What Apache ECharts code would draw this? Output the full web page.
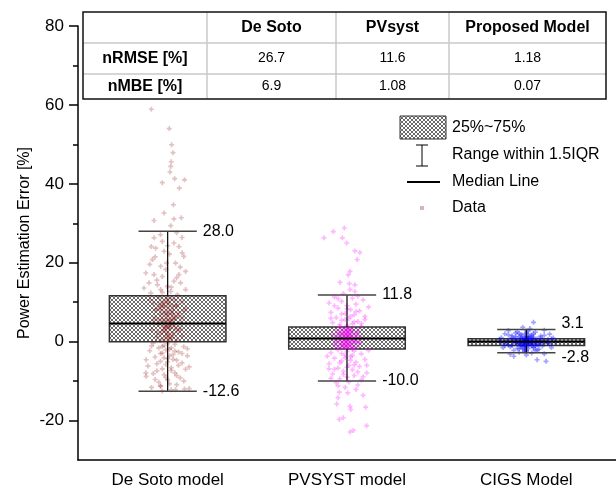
<!DOCTYPE html>
<html>
<head>
<meta charset="utf-8">
<script src="https://cdn.jsdelivr.net/npm/echarts@6/dist/echarts.min.js"></script>
<style>
  html, body { margin: 0; padding: 0; background: #fff; }
  #chart { width: 616px; height: 496px; }
</style>
</head>
<body>
<div id="chart"></div>
<script>
const categories = ["De Soto model", "PVSYST model", "CIGS Model"];
const yMajorTicks = [-20, 0, 20, 40, 60, 80];
const yMinorTicks = [-10, 10, 30, 50, 70];

// 箱线数据 [x, 下须, Q1, 中位数, Q3, 上须]
const boxDeSoto = [1, -12.6, 0.0, 4.6, 11.6, 28.0];
const boxPvsyst = [2, -10.0, -1.85, 0.8, 3.7, 11.8];
const boxCigs = [3, -2.8, -0.95, 0.0, 0.75, 3.1];

// 散点 [x, 误差]
const pointsDeSoto = [
  [0.909, 58.9], [1.009, 54.0], [1.022, 49.9], [1.03, 47.9], [1.02, 45.6], [1.017, 44.4], [1.013, 43.0],
  [0.97, 40.3], [1.039, 41.3], [1.094, 41.0], [1.065, 38.9], [1.032, 34.7], [0.98, 32.6], [1.076, 31.4],
  [0.924, 30.7], [1.035, 31.1], [1.017, 29.4],
  [0.924, 26.3], [0.97, 25.4], [1.035, 25.0], [0.909, 24.1], [0.933, 23.7], [0.98, 22.9], [1.063, 24.1],
  [1.081, 22.5], [0.994, 19.9], [1.044, 19.9], [0.915, 20.8], [0.961, 19.1], [1.09, 21.6], [0.878, 17.4],
  [0.924, 17.0], [0.97, 16.5], [1.063, 17.0], [1.1, 17.8], [0.896, 14.9], [0.943, 14.4], [1.035, 15.3],
  [1.072, 14.9], [0.998, 14.0], [0.868, 13.6], [0.961, 13.2], [1.017, 12.7], [1.1, 13.2], [0.906, 12.3],
  [1.054, 11.9],
  [0.97, 12.5], [1.02, 13.8], [0.94, 15.6], [1.05, 16.2], [0.99, 18.3], [1.07, 18.9], [0.93, 21.5],
  [1.01, 22.2], [0.96, 27.1], [1.05, 27.6], [1.0, 24.3], [0.9, 19.6], [1.08, 26.4],
  [0.95, 11.2], [0.99, 10.8], [1.04, 10.5], [1.08, 10.1], [0.92, 9.8], [1.01, 9.5], [0.97, 9.1], [1.05, 8.9],
  [1.0, 8.6], [0.94, 8.3], [1.03, 8.0], [1.09, 7.7], [0.98, 7.5], [1.02, 7.2], [0.96, 6.9], [1.06, 6.6],
  [1.0, 6.4], [0.93, 6.1], [1.04, 5.9], [0.99, 5.6], [1.01, 5.3], [0.97, 5.0], [1.07, 4.8], [1.02, 4.5],
  [0.95, 4.3], [1.0, 4.1], [1.04, 3.8], [0.98, 3.5], [1.01, 3.2], [0.91, 3.0], [1.06, 2.7], [0.99, 2.5],
  [1.03, 2.2], [0.96, 1.9], [1.0, 1.7], [1.08, 1.4], [0.94, 1.2], [1.02, 0.9], [0.98, 0.6], [1.05, 0.4],
  [1.0, 0.2], [0.97, 10.0], [1.03, 7.0], [1.0, 9.9], [0.99, 3.9], [1.02, 5.7], [0.98, 2.9], [1.01, 1.1],
  [1.05, 9.3], [0.93, 7.9], [1.07, 3.3], [0.95, 5.5], [1.0, 11.0], [1.03, 4.4], [0.96, 8.8],
  [1.0, 10.3], [0.98, 9.6], [1.03, 9.0], [0.96, 8.1], [1.01, 7.8], [0.99, 7.1], [1.04, 6.2], [0.97, 5.9],
  [1.0, 5.2], [1.02, 4.9], [0.98, 4.7], [1.01, 4.0], [0.99, 3.6], [1.05, 3.1], [0.97, 2.6], [1.0, 2.1],
  [1.03, 1.6], [0.99, 1.3], [1.01, 0.7], [0.96, 0.3], [1.02, 10.9], [0.95, 9.4], [1.06, 7.3], [0.92, 5.3],
  [1.08, 6.0], [0.94, 2.4], [1.1, 8.4], [0.9, 10.6], [1.0, 6.9], [1.03, 5.5], [0.98, 8.9], [1.01, 3.4],
  [0.92, -0.4], [1.04, -0.7], [0.98, -1.0], [1.09, -1.3], [0.95, -1.6], [1.01, -1.9], [0.9, -2.3],
  [1.06, -2.6], [0.97, -2.9], [1.03, -3.3], [1.11, -3.6], [0.93, -3.9], [1.0, -4.3], [1.05, -4.7],
  [0.96, -5.0], [1.08, -5.4], [0.99, -5.8], [0.89, -6.2], [1.02, -6.6], [1.1, -7.0], [0.94, -7.4],
  [1.04, -7.9], [0.98, -8.4], [0.88, -8.8], [1.07, -9.2], [1.0, -9.7], [0.95, -10.3], [1.05, -10.9],
  [0.91, -11.6], [1.02, -12.2], [1.12, -11.9], [0.97, -12.5], [0.878, -7.9], [0.961, -11.3],
  [1.094, -12.0], [1.044, -12.2],
  [1.0, -0.5], [0.97, -1.2], [1.02, -1.6], [0.99, -2.1], [1.04, -2.4], [0.96, -3.0], [1.01, -3.6],
  [0.98, -4.1], [1.03, -4.5], [1.0, -5.1], [0.94, -5.6], [1.06, -6.0], [0.97, -6.9], [1.02, -7.3],
  [0.92, -8.1], [1.05, -8.6], [0.99, -9.1], [1.09, -10.0], [0.93, -9.6], [1.01, -10.7], [0.96, -11.2],
  [1.08, -3.0], [0.91, -1.1], [1.11, -1.8], [0.88, -4.6], [1.12, -6.4]
];
const pointsPvsyst = [
  [1.872, 26.3], [1.924, 27.9], [1.985, 28.8], [1.974, 26.3], [1.998, 25.0], [2.044, 23.0], [2.072, 22.6],
  [2.057, 20.8], [2.017, 17.8], [2.007, 16.9], [1.961, 15.0], [2.013, 14.7], [2.044, 14.4], [2.017, 13.2],
  [2.044, 12.7],
  [1.93, 11.3], [2.03, 11.0], [2.09, 10.6], [1.97, 10.2], [1.9, 9.8], [2.05, 9.5], [2.0, 9.1], [2.12, 8.8],
  [1.95, 8.5], [2.02, 8.1], [2.07, 7.8], [1.91, 7.4], [1.99, 7.1], [2.04, 6.8], [2.1, 6.4], [1.94, 6.1],
  [2.01, 5.8], [1.97, 5.4], [2.06, 5.1], [1.92, 4.8], [2.03, 4.5], [2.0, 4.2], [2.08, 3.9], [1.96, 3.8],
  [1.96, 4.3], [2.04, 5.0], [1.99, 5.6], [2.02, 6.4], [1.97, 7.0], [2.05, 7.6], [2.0, 8.3], [1.93, 9.1],
  [2.08, 4.6], [1.91, 5.9], [2.1, 5.6], [1.95, 10.9], [2.06, 11.5], [1.98, 12.2],
  [2.0, 3.5], [1.97, 3.3], [2.03, 3.1], [1.94, 2.9], [2.06, 2.8], [2.0, 2.6], [1.98, 2.4], [2.02, 2.2],
  [1.95, 2.1], [2.05, 1.9], [2.01, 1.8], [1.99, 1.6], [2.04, 1.4], [1.96, 1.3], [2.0, 1.1], [2.08, 1.0],
  [1.93, 0.9], [2.02, 0.7], [1.98, 0.6], [2.0, 0.4], [2.05, 0.3], [1.96, 0.1], [2.01, 0.0], [1.99, -0.2],
  [2.03, -0.3], [1.94, -0.5], [2.07, -0.6], [2.0, -0.8], [1.97, -0.9], [2.02, -1.1], [1.99, -1.2],
  [2.05, -1.4], [1.95, -1.5], [2.0, -1.7], [2.03, -1.8], [1.98, 1.5], [2.01, 2.7], [2.0, -0.1], [1.97, 0.5],
  [2.04, 0.2], [1.99, 1.2], [2.02, -0.7], [1.96, 2.3], [2.01, 3.4], [1.98, -1.3], [2.03, 0.8], [2.0, 1.9],
  [1.99, 0.3], [2.02, 1.6], [1.97, -0.4], [2.06, 1.2], [1.92, 1.7],
  [2.0, 2.9], [1.98, 2.0], [2.02, 1.3], [2.0, 0.9], [1.99, 0.0], [2.01, -0.5], [2.0, -1.0], [1.97, 1.8],
  [2.03, 2.4], [1.96, 0.8], [2.04, -0.2], [1.98, -0.7], [2.02, 0.4], [2.0, 3.2], [1.95, 1.0], [2.05, 0.6],
  [1.99, -1.5], [2.01, 1.5], [1.97, -1.1], [2.03, -1.6], [1.94, 0.3], [2.06, 2.1], [2.0, 2.0], [1.98, 3.0],
  [2.02, 2.9], [1.93, -0.9], [2.07, -0.3], [2.0, 0.7], [1.99, 2.5], [2.01, -1.3],
  [1.95, -2.1], [2.04, -2.4], [1.91, -2.8], [2.08, -3.1], [1.99, -3.4], [2.02, -3.8], [1.93, -4.2],
  [2.1, -4.5], [1.97, -4.9], [2.05, -5.2], [1.9, -5.6], [2.01, -6.0], [2.07, -6.3], [1.95, -6.7],
  [2.03, -7.1], [1.98, -7.5], [2.11, -7.9], [1.92, -8.2], [2.04, -8.6], [2.0, -9.0], [1.96, -9.4],
  [2.08, -9.7], [1.94, -10.4], [2.06, -11.0], [1.99, -11.6],
  [2.0, -2.5], [1.97, -3.0], [2.03, -3.5], [1.99, -4.1], [2.02, -4.7], [1.96, -5.3], [2.04, -5.9],
  [2.0, -6.5], [1.93, -7.0], [2.06, -7.7], [1.98, -8.3], [2.09, -8.9], [1.91, -9.3], [2.01, -10.2],
  [1.95, -11.2], [2.05, -12.1], [2.12, -2.2], [1.89, -3.7], [2.11, -6.0], [1.9, -6.9],
  [1.957, -12.8], [2.004, -13.0], [1.943, -15.8], [2.017, -16.4], [2.021, -17.2], [2.104, -16.6],
  [1.957, -19.7], [1.979, -19.3], [2.109, -21.3], [2.035, -22.5], [2.017, -22.9], [1.95, -14.2], [2.09, -13.6]
];
const pointsCigs = [
  [3.04, 4.9], [3.11, -5.0], [2.93, -3.7], [3.06, -4.6], [2.98, 3.6], [3.02, 3.3], [2.9, 2.8], [3.1, 2.9],
  [2.95, 2.5], [3.05, 2.4], [3.0, 2.2], [2.88, 2.0], [3.13, 1.9], [2.97, 1.8], [3.03, 1.7], [2.92, 1.5],
  [3.08, 1.4], [3.0, 1.3], [2.96, 1.2], [3.04, 1.1], [2.86, 1.0], [3.15, 0.9], [2.99, 0.9], [3.01, 0.8],
  [2.94, 0.7], [3.06, 0.7], [3.0, 0.6], [2.97, 0.5], [3.03, 0.5], [2.91, 0.4], [3.09, 0.4], [2.99, 0.3],
  [3.02, 0.3], [2.95, 0.2], [3.05, 0.2], [3.0, 0.1], [2.98, 0.0], [3.01, 0.0], [2.93, -0.1], [3.07, -0.1],
  [3.0, -0.2], [2.96, -0.3], [3.04, -0.3], [2.89, -0.4], [3.12, -0.4], [2.99, -0.5], [3.02, -0.5],
  [2.95, -0.6], [3.06, -0.7], [3.0, -0.8], [2.97, -0.9], [3.03, -0.9], [2.92, -1.0], [3.09, -1.1],
  [3.0, -1.2], [2.98, -1.3], [3.04, -1.4], [2.87, -1.5], [3.14, -1.5], [2.95, -1.7], [3.01, -1.8],
  [3.07, -1.9], [2.99, -2.0], [2.93, -2.2], [3.05, -2.3], [3.0, -2.5], [2.96, -2.7], [3.03, -2.9],
  [3.1, -3.1], [2.91, -3.2], [3.0, -3.4], [2.97, 1.0], [3.02, -0.6], [3.0, 0.4], [2.99, -0.1], [3.01, 0.7],
  [2.98, -0.4], [3.03, 0.1], [2.97, -0.7], [3.02, 1.5], [3.05, -1.0], [2.94, 1.3], [3.08, 0.0], [2.9, -0.8],
  [3.12, 0.5], [2.96, 2.0], [3.04, -1.6], [3.0, 1.9], [2.98, -1.9], [3.01, 2.6], [2.99, -2.4],
  [3.0, 0.0], [2.99, 0.2], [3.01, -0.3], [3.0, 0.5], [2.98, 0.8], [3.02, -0.9], [3.0, -0.5], [2.97, 0.3],
  [3.03, -0.2], [3.0, 1.1], [2.99, -1.1], [3.01, 1.3], [2.96, -0.5], [3.04, 0.6], [2.95, 0.0], [3.05, -0.5],
  [3.0, -1.5], [2.98, 1.6], [3.02, 0.9], [2.97, -1.2], [3.03, 1.2], [2.94, -0.2], [3.06, 0.3], [3.0, 0.8],
  [2.99, -0.7], [3.01, 0.1], [2.93, 0.6], [3.07, -0.8], [2.92, 1.1], [3.08, 1.0], [2.91, -1.3], [3.09, -0.3],
  [2.89, 0.2], [3.11, 0.0], [2.88, -0.9], [3.13, -0.6], [2.9, 1.7], [3.1, 1.6], [2.94, 2.2], [3.06, -2.1],
  [2.96, -1.8], [3.04, 2.0], [3.0, 2.7], [3.0, -2.2], [2.86, -0.3], [3.14, 0.7], [2.85, 0.5], [3.16, -0.1]
];

// 表格文字
const tableHeader = ["", "De Soto", "PVsyst", "Proposed Model"];
const tableNrmse = ["nRMSE [%]", "26.7", "11.6", "1.18"];
const tableNmbe = ["nMBE [%]", "6.9", "1.08", "0.07"];
const legendLabels = ["25%~75%", "Range within 1.5IQR", "Median Line", "Data"];

const FONT = "'Liberation Sans', Arial, sans-serif";
const BOX_WIDTH = 0.65;
const PLUS = "path://M2,0H4V2H6V4H4V6H2V4H0V2H2Z";

// 网格阴影填充
function makeHatch() {
  const c = document.createElement("canvas");
  c.width = 4;
  c.height = 4;
  const ctx = c.getContext("2d");
  ctx.fillStyle = "#fff";
  ctx.fillRect(0, 0, 4, 4);
  ctx.strokeStyle = "#3a3a3a";
  ctx.lineWidth = 0.75;
  ctx.beginPath();
  ctx.moveTo(-1, -1); ctx.lineTo(5, 5);
  ctx.moveTo(-1, 3); ctx.lineTo(1, 5);
  ctx.moveTo(3, -1); ctx.lineTo(5, 1);
  ctx.moveTo(5, -1); ctx.lineTo(-1, 5);
  ctx.moveTo(-1, 1); ctx.lineTo(1, -1);
  ctx.moveTo(3, 5); ctx.lineTo(5, 3);
  ctx.stroke();
  return c;
}
const hatch = { image: makeHatch(), repeat: "repeat" };

function renderBox(params, api) {
  const x = api.value(0);
  const q1 = api.coord([x, api.value(2)]);
  const q3 = api.coord([x, api.value(4)]);
  const w = api.size([BOX_WIDTH, 0])[0];
  return {
    type: "rect",
    shape: { x: q1[0] - w / 2, y: q3[1], width: w, height: q1[1] - q3[1] },
    style: { fill: hatch, stroke: "#333", lineWidth: 1.5 },
  };
}

function renderWhisker(params, api) {
  const x = api.value(0);
  const pMin = api.coord([x, api.value(1)]);
  const pQ1 = api.coord([x, api.value(2)]);
  const pMed = api.coord([x, api.value(3)]);
  const pQ3 = api.coord([x, api.value(4)]);
  const pMax = api.coord([x, api.value(5)]);
  const bw = api.size([BOX_WIDTH, 0])[0];
  const cw = bw / 2;
  const cx = pMin[0];
  // 上下标签太近时错开
  const mid = (pMin[1] + pMax[1]) / 2;
  const topY = Math.min(pMax[1], mid - 17);
  const botY = Math.max(pMin[1], mid + 17);
  const lineStyle = { stroke: "#000", lineWidth: 1.2 };
  const capStyle = { stroke: "#444", lineWidth: 1.5 };
  const textStyle = (t, y) => ({
    type: "text",
    x: cx + cw / 2 + 6,
    y: y,
    style: { text: t, fill: "#000", fontSize: 16, fontFamily: FONT, align: "left", verticalAlign: "middle" },
  });
  return {
    type: "group",
    children: [
      { type: "line", shape: { x1: cx, y1: pMax[1], x2: cx, y2: pQ3[1] }, style: lineStyle },
      { type: "line", shape: { x1: cx, y1: pQ1[1], x2: cx, y2: pMin[1] }, style: lineStyle },
      { type: "line", shape: { x1: cx - cw / 2, y1: pMax[1], x2: cx + cw / 2, y2: pMax[1] }, style: capStyle },
      { type: "line", shape: { x1: cx - cw / 2, y1: pMin[1], x2: cx + cw / 2, y2: pMin[1] }, style: capStyle },
      { type: "line", shape: { x1: cx - bw / 2, y1: pMed[1], x2: cx + bw / 2, y2: pMed[1] }, style: { stroke: "#000", lineWidth: 2.2 } },
      textStyle(api.value(5).toFixed(1), topY),
      textStyle(api.value(1).toFixed(1), botY),
    ],
  };
}

// 表格
function buildTable() {
  const colX = [83, 207, 336, 449, 606];
  const rowY = [12, 43, 74, 99];
  const rows = [tableHeader, tableNrmse, tableNmbe];
  const els = [];
  els.push({ type: "rect", shape: { x: colX[0], y: rowY[0], width: colX[4] - colX[0], height: rowY[3] - rowY[0] }, style: { fill: "#fff", stroke: "none" } });
  for (let i = 1; i < rowY.length - 1; i++) {
    els.push({ type: "line", shape: { x1: colX[0], y1: rowY[i], x2: colX[4], y2: rowY[i] }, style: { stroke: "#c8c8c8", lineWidth: 1.5 } });
  }
  for (let j = 1; j < colX.length - 1; j++) {
    els.push({ type: "line", shape: { x1: colX[j], y1: rowY[0], x2: colX[j], y2: rowY[3] }, style: { stroke: "#c8c8c8", lineWidth: 1.5 } });
  }
  els.push({ type: "rect", shape: { x: colX[0], y: rowY[0], width: colX[4] - colX[0], height: rowY[3] - rowY[0] }, style: { fill: "none", stroke: "#111", lineWidth: 1.5 } });
  rows.forEach((row, r) => {
    row.forEach((t, c) => {
      if (!t) return;
      const bold = r === 0 || c === 0;
      els.push({
        type: "text",
        x: (colX[c] + colX[c + 1]) / 2,
        y: (rowY[r] + rowY[r + 1]) / 2,
        style: { text: t, fill: "#000", fontSize: bold ? 16 : 14, fontWeight: bold ? "bold" : "normal", fontFamily: FONT, align: "center", verticalAlign: "middle" },
      });
    });
  });
  return els;
}

// 图例
function buildLegend() {
  const tx = 452;
  const ys = [128, 155, 182, 208];
  const els = [
    { type: "rect", shape: { x: 400, y: 116, width: 46, height: 23 }, style: { fill: hatch, stroke: "#333", lineWidth: 1 } },
    { type: "line", shape: { x1: 422, y1: 145, x2: 422, y2: 166 }, style: { stroke: "#000", lineWidth: 1 } },
    { type: "line", shape: { x1: 416, y1: 145, x2: 428, y2: 145 }, style: { stroke: "#000", lineWidth: 1 } },
    { type: "line", shape: { x1: 416, y1: 166, x2: 428, y2: 166 }, style: { stroke: "#000", lineWidth: 1 } },
    { type: "line", shape: { x1: 407, y1: 182, x2: 440, y2: 182 }, style: { stroke: "#000", lineWidth: 2.2 } },
    { type: "rect", shape: { x: 420, y: 206, width: 4, height: 4 }, style: { fill: "rgba(139,0,0,0.3)" } },
  ];
  legendLabels.forEach((t, i) => {
    els.push({ type: "text", x: tx, y: ys[i], style: { text: t, fill: "#000", fontSize: 16, fontFamily: FONT, align: "left", verticalAlign: "middle" } });
  });
  return els;
}

const chart = echarts.init(document.getElementById("chart"));

const option = {
  animation: false,
  backgroundColor: "#fff",
  grid: { left: 78, right: 0, top: 26, bottom: 36 },
  xAxis: [
    {
      type: "category",
      data: categories,
      boundaryGap: true,
      axisLine: { onZero: false, lineStyle: { color: "#000", width: 1.5 } },
      axisTick: { alignWithLabel: true, length: 8, lineStyle: { color: "#000", width: 1.5 } },
      axisLabel: { color: "#000", fontSize: 17, fontFamily: FONT, margin: 12 },
      splitLine: { show: false },
    },
    { type: "value", min: 0.5, max: 3.5, show: false },
  ],
  yAxis: [
    {
      type: "value",
      min: -30,
      max: 80,
      name: "Power Estimation Error [%]",
      nameLocation: "middle",
      nameGap: 45,
      nameMoveOverlap: false,
      nameTextStyle: { color: "#000", fontSize: 16, fontFamily: FONT },
      axisLine: { show: true, lineStyle: { color: "#000", width: 1.5 } },
      axisTick: { show: true, customValues: yMajorTicks, length: 9, lineStyle: { color: "#000", width: 1.5 } },
      axisLabel: { customValues: yMajorTicks, color: "#000", fontSize: 17, fontFamily: FONT, margin: 14 },
      splitLine: { show: false },
    },
    {
      type: "value",
      min: -30,
      max: 80,
      position: "left",
      axisLine: { show: false },
      axisTick: { show: true, customValues: yMinorTicks, length: 5, lineStyle: { color: "#000", width: 1.5 } },
      axisLabel: { show: false },
      splitLine: { show: false },
    },
  ],
  series: [
    {
      type: "custom",
      xAxisIndex: 1,
      renderItem: renderBox,
      encode: { x: 0, y: [1, 2, 3, 4, 5] },
      data: [boxDeSoto, boxPvsyst, boxCigs],
      z: 1,
    },
    {
      type: "scatter",
      xAxisIndex: 1,
      symbol: PLUS,
      symbolSize: 5,
      itemStyle: { color: "rgba(139,0,0,0.3)" },
      data: pointsDeSoto,
      z: 2,
    },
    {
      type: "scatter",
      xAxisIndex: 1,
      symbol: PLUS,
      symbolSize: 5,
      itemStyle: { color: "rgba(255,0,255,0.35)" },
      data: pointsPvsyst,
      z: 2,
    },
    {
      type: "scatter",
      xAxisIndex: 1,
      symbol: PLUS,
      symbolSize: 5,
      itemStyle: { color: "rgba(0,0,255,0.45)" },
      data: pointsCigs,
      z: 2,
    },
    {
      type: "custom",
      xAxisIndex: 1,
      renderItem: renderWhisker,
      encode: { x: 0, y: [1, 2, 3, 4, 5] },
      data: [boxDeSoto, boxPvsyst, boxCigs],
      z: 3,
    },
  ],
  graphic: [
    { type: "group", z: 100, children: buildTable() },
    { type: "group", z: 100, children: buildLegend() },
  ],
};

chart.setOption(option);
</script>
</body>
</html>
